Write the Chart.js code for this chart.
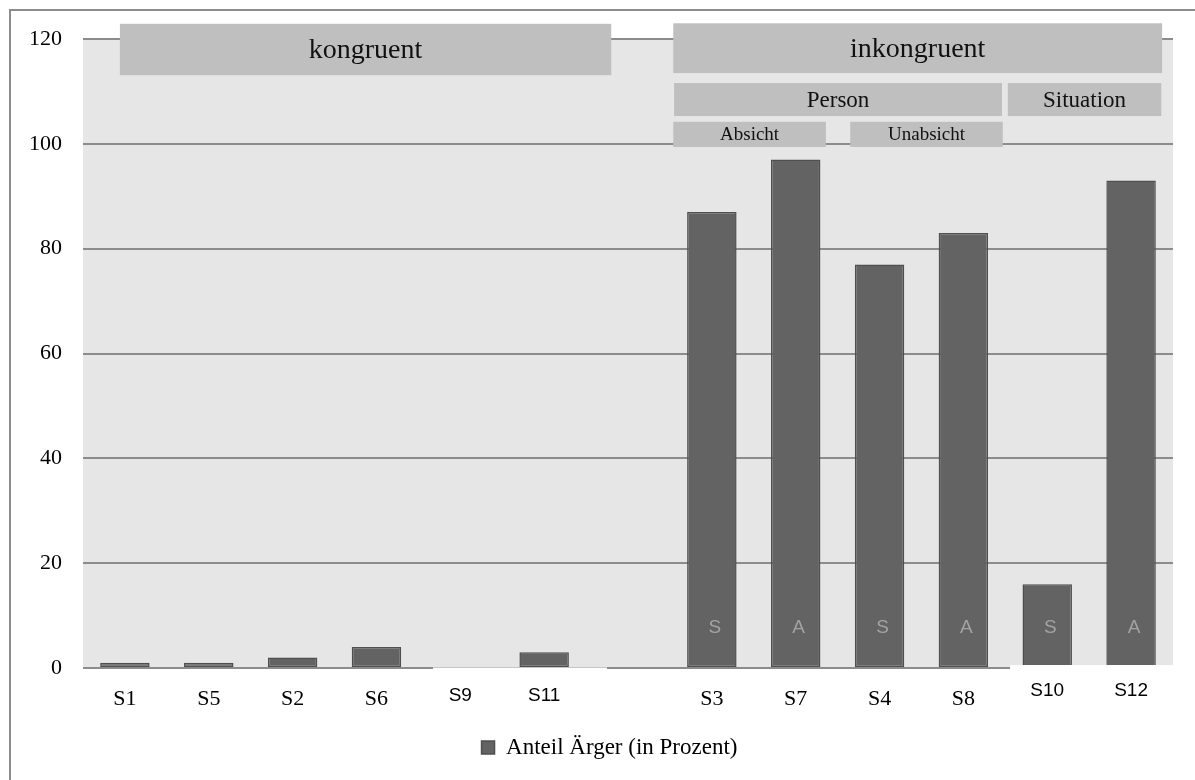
<!DOCTYPE html>
<html>
<head>
<meta charset="utf-8">
<script src="https://cdn.jsdelivr.net/npm/chart.js@4/dist/chart.umd.min.js"></script>
<style>
  html, body { margin: 0; padding: 0; background: #fff; }
  canvas { display: block; }
</style>
</head>
<body>
<canvas id="chart" width="1195" height="780"></canvas>
<script>
// ---- data ----
const situations  = ['S1', 'S5', 'S2', 'S6', 'S9', 'S11', '', 'S3', 'S7', 'S4', 'S8', 'S10', 'S12'];
const angerShare  = [1, 1, 2, 4, 0, 3, null, 87, 97, 77, 83, 16, 93];
const barLetters  = ['', '', '', '', '', '', '', 'S', 'A', 'S', 'A', 'S', 'A'];
const yTickValues = [0, 20, 40, 60, 80, 100, 120];
const groupNames  = ['kongruent', 'inkongruent', 'Person', 'Situation', 'Absicht', 'Unabsicht'];
const seriesName  = 'Anteil Ärger (in Prozent)';

// ---- layout of the group header boxes (category index units / value units) ----
const groupBoxLayout = [
  { x0: -0.06, x1: 5.80,  top: 122.9, bottom: 113.1, size: 28 },
  { x0: 6.54,  x1: 12.37, top: 123.0, bottom: 113.5, size: 28 },
  { x0: 6.55,  x1: 10.46, top: 111.6, bottom: 105.3, size: 23 },
  { x0: 10.53, x1: 12.36, top: 111.6, bottom: 105.3, size: 23 },
  { x0: 6.54,  x1: 8.36,  top: 104.2, bottom: 99.4,  size: 19 },
  { x0: 8.65,  x1: 10.47, top: 104.2, bottom: 99.4,  size: 19 }
];

const SERIF = "'Liberation Serif', 'Times New Roman', serif";
const SANS  = "'Liberation Sans', Arial, sans-serif";
const BAR_FILL = '#636363';
const BAR_EDGE = '#4f4f4f';
const GRID = '#8c8c8c';
const LEGEND_INSET = 46;

// tick fonts: most labels serif, a few in a sans face sitting a bit higher
const sansTickLift = { 'S9': '19px', 'S11': '19px', 'S10': '9px', 'S12': '9px' };

const chrome = {
  id: 'chrome',
  afterLayout(chart) {
    // centre the legend a little right of the canvas middle
    const lg = chart.legend;
    if (lg) { lg.left = LEGEND_INSET; lg.width = lg.right - lg.left; }
  },
  beforeDraw(chart) {
    const { ctx, chartArea: a, width, height } = chart;
    ctx.save();
    ctx.fillStyle = '#fff';
    ctx.fillRect(0, 0, width, height);
    // frame
    ctx.strokeStyle = GRID;
    ctx.lineWidth = 2;
    ctx.beginPath();
    ctx.moveTo(10, height + 2);
    ctx.lineTo(10, 10);
    ctx.lineTo(width + 2, 10);
    ctx.stroke();
    // plot background
    ctx.fillStyle = '#e6e6e6';
    ctx.fillRect(a.left, a.top, a.right - a.left, a.bottom - a.top);
    ctx.restore();
  },
  afterDatasetsDraw(chart) {
    const { ctx, chartArea: a } = chart;
    const xs = chart.scales.x, ys = chart.scales.y;
    const zero = ys.getPixelForValue(0);
    ctx.save();
    // white strips below the baseline
    ctx.fillStyle = '#fff';
    const p1a = xs.getPixelForValue(3.674), p1b = xs.getPixelForValue(5.75);
    ctx.fillRect(p1a, zero - 0.5, p1b - p1a, 12);
    const p2a = xs.getPixelForValue(10.556);
    ctx.fillRect(p2a, zero - 3, a.right + 2 - p2a, 14);

    // letters inside the bars
    ctx.fillStyle = '#a3a3a3';
    ctx.font = '19px ' + SANS;
    ctx.textAlign = 'center';
    ctx.textBaseline = 'middle';
    const meta = chart.getDatasetMeta(0);
    barLetters.forEach((t, i) => {
      if (!t) return;
      const bar = meta.data[i];
      ctx.fillText(t, bar.x + 3, zero - 40);
    });

    // group header boxes
    groupNames.forEach((name, i) => {
      const g = groupBoxLayout[i];
      const x0 = xs.getPixelForValue(g.x0), x1 = xs.getPixelForValue(g.x1);
      const y0 = ys.getPixelForValue(g.top), y1 = ys.getPixelForValue(g.bottom);
      ctx.fillStyle = '#bfbfbf';
      ctx.fillRect(x0, y0, x1 - x0, y1 - y0);
      ctx.fillStyle = '#111';
      ctx.font = g.size + 'px ' + SERIF;
      ctx.fillText(name, (x0 + x1) / 2, (y0 + y1) / 2 + 1);
    });
    ctx.restore();
  }
};

new Chart(document.getElementById('chart'), {
  type: 'bar',
  data: {
    labels: situations,
    datasets: [{
      label: seriesName,
      data: angerShare,
      backgroundColor: BAR_FILL,
      borderColor: BAR_EDGE,
      borderWidth: 1.5,
      borderSkipped: false,
      barPercentage: 0.59,
      categoryPercentage: 1.0
    }]
  },
  options: {
    responsive: false,
    animation: false,
    devicePixelRatio: 1,
    layout: { padding: { top: 39, right: 22, bottom: 11, left: 0 } },
    scales: {
      x: {
        grid: { display: false },
        border: { display: false },
        ticks: {
          z: 1,
          autoSkip: false,
          maxRotation: 0,
          padding: 10,
          color: '#000',
          font: (c) => {
            const lbl = situations[c.index];
            if (sansTickLift[lbl]) return { family: SANS, size: 19, lineHeight: sansTickLift[lbl] };
            return { family: SERIF, size: 22, lineHeight: '26px' };
          }
        },
        afterFit(scale) { scale.height = 58; }
      },
      y: {
        min: 0,
        max: 120,
        afterBuildTicks(scale) { scale.ticks = yTickValues.map(v => ({ value: v })); },
        grid: { color: GRID, lineWidth: 2, drawTicks: false },
        border: { display: false },
        ticks: {
          padding: 21,
          color: '#000',
          font: { family: SERIF, size: 22 }
        },
        afterFit(scale) { scale.width = 83; }
      }
    },
    plugins: {
      legend: {
        position: 'bottom',
        labels: {
          color: '#000',
          font: { family: SERIF, size: 23 },
          boxWidth: 13,
          boxHeight: 13,
          padding: 10
        }
      },
      tooltip: { enabled: false }
    }
  },
  plugins: [chrome]
});
</script>
</body>
</html>
